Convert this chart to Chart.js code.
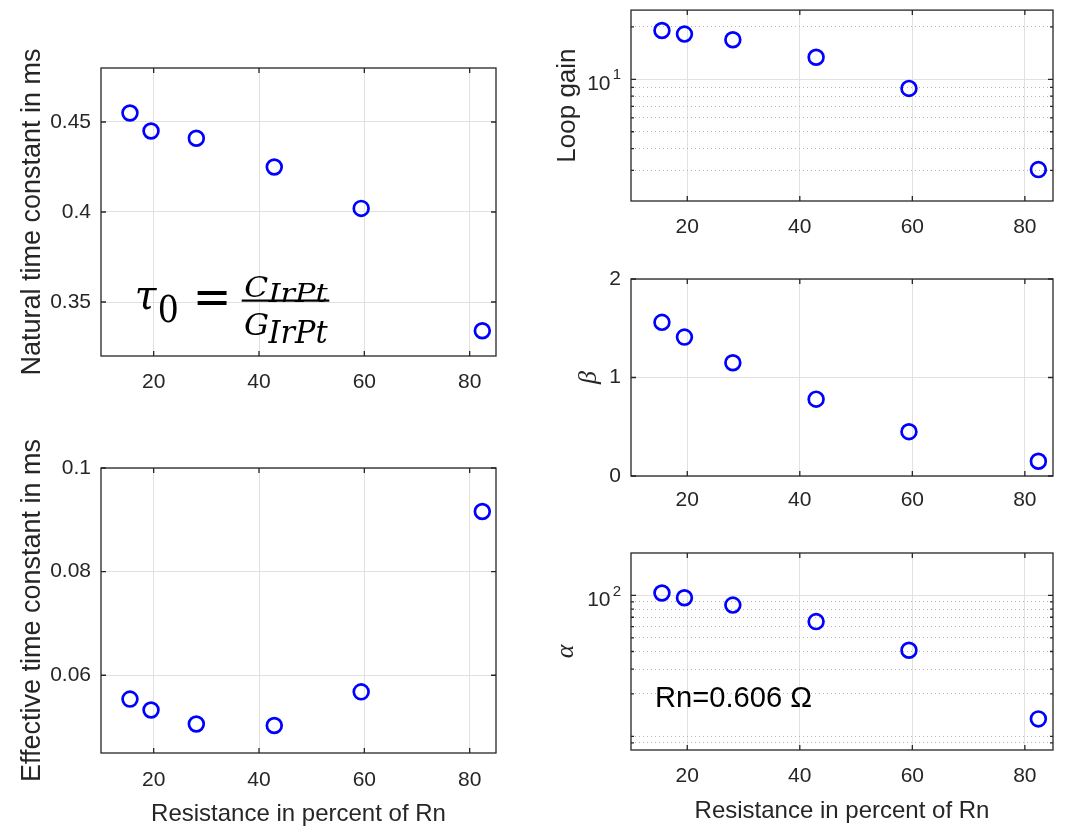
<!DOCTYPE html>
<html>
<head>
<meta charset="utf-8">
<script src="https://cdn.jsdelivr.net/npm/chart.js@4.4.1/dist/chart.umd.min.js"></script>
<style>
  html, body { margin: 0; padding: 0; background: #fff; }
  #page { position: relative; width: 1076px; height: 829px; overflow: hidden; background: #fff; }
  .panel { position: absolute; }
</style>
</head>
<body>
<div id="page">
  <div class="panel" style="left:0px;top:0px;width:520px;height:420px"><canvas id="tauNat"></canvas></div>
  <div class="panel" style="left:0px;top:420px;width:520px;height:409px"><canvas id="tauEff"></canvas></div>
  <div class="panel" style="left:540px;top:0px;width:536px;height:240px"><canvas id="gain"></canvas></div>
  <div class="panel" style="left:540px;top:250px;width:536px;height:260px"><canvas id="beta"></canvas></div>
  <div class="panel" style="left:540px;top:520px;width:536px;height:309px"><canvas id="alpha"></canvas></div>
</div>
<script>
// values
const resistance = [15.5, 19.5, 28.1, 42.9, 59.4, 82.4];
const tauNatural = [0.455, 0.445, 0.441, 0.425, 0.402, 0.334];
const tauEffective = [0.0554, 0.0533, 0.0506, 0.0503, 0.0568, 0.0916];
const loopGain = [19.1, 18.2, 16.9, 13.4, 8.87, 3.03];
const betaValues = [1.56, 1.41, 1.15, 0.78, 0.45, 0.15];
const alphaValues = [104, 96.3, 85.4, 65.2, 40.8, 13.3];

// ticks
const xTicks = [20, 40, 60, 80];
const tauNatTicks = [0.35, 0.4, 0.45];
const tauNatLabels = ["0.35", "0.4", "0.45"];
const tauEffTicks = [0.06, 0.08, 0.1];
const tauEffLabels = ["0.06", "0.08", "0.1"];
const gainTicks = [10];
const gainLabels = ["10"];
const gainExponents = ["1"];
const gainMinor = [3, 4, 5, 6, 7, 8, 9, 20];
const betaTicks = [0, 1, 2];
const betaLabels = ["0", "1", "2"];
const alphaTicks = [100];
const alphaLabels = ["10"];
const alphaExponents = ["2"];
const alphaMinor = [9, 10, 20, 30, 40, 50, 60, 70, 80, 90];

const TXT = "#262626";
const GRID = "#e1e1e1";
const MINOR = "#b5b5b5";
const EXP_GAP = "\u2002"; // room for the exponent right of "10"

function fitBox(ctx, text, font, x0, y0, x1, y1) {
  ctx.font = font;
  const m = ctx.measureText(text);
  const w = m.actualBoundingBoxLeft + m.actualBoundingBoxRight;
  const h = m.actualBoundingBoxAscent + m.actualBoundingBoxDescent;
  const sx = (x1 - x0) / w, sy = (y1 - y0) / h;
  ctx.save();
  ctx.translate(x0 + m.actualBoundingBoxLeft * sx, y0 + m.actualBoundingBoxAscent * sy);
  ctx.scale(sx, sy);
  ctx.textAlign = "left";
  ctx.textBaseline = "alphabetic";
  ctx.fillText(text, 0, 0);
  ctx.restore();
}

// MATLAB style box with inward ticks on all sides, plus exponents on log labels
const boxPlugin = {
  id: "box",
  afterDatasetsDraw(chart) {
    const { ctx, chartArea: a, scales: { x, y } } = chart;
    ctx.save();
    ctx.strokeStyle = TXT;
    ctx.lineWidth = 1.3;
    ctx.beginPath();
    x.ticks.forEach(t => {
      const px = x.getPixelForValue(t.value);
      ctx.moveTo(px, a.bottom); ctx.lineTo(px, a.bottom - 5);
      ctx.moveTo(px, a.top); ctx.lineTo(px, a.top + 5);
    });
    y.ticks.forEach(t => {
      const py = y.getPixelForValue(t.value);
      const len = t.major ? 5 : 3;
      ctx.moveTo(a.left, py); ctx.lineTo(a.left + len, py);
      ctx.moveTo(a.right, py); ctx.lineTo(a.right - len, py);
    });
    ctx.stroke();
    ctx.strokeRect(a.left, a.top, a.right - a.left, a.bottom - a.top);

    const o = chart.config.options.expOpts;
    if (o) {
      ctx.fillStyle = TXT;
      ctx.font = "15px 'Liberation Sans'";
      ctx.textAlign = "right";
      ctx.textBaseline = "middle";
      o.ticks.forEach((v, i) => {
        ctx.fillText(o.exps[i], a.left - 10, y.getPixelForValue(v) - 4);
      });
    }
    ctx.restore();
  }
};

const formulaPlugin = {
  id: "formula",
  afterDraw(chart) {
    const { ctx, chartArea: a } = chart;
    const L = a.left, T = a.top;
    const it = "italic 40px 'DejaVu Serif'";
    ctx.save();
    ctx.fillStyle = "#000";
    fitBox(ctx, "\u03c4", it, L + 35.7, T + 220.3, L + 56.3, T + 242.7);
    fitBox(ctx, "0", "40px 'DejaVu Serif'", L + 58.3, T + 225.3, L + 75.7, T + 254.7);
    fitBox(ctx, "=", "40px 'DejaVu Serif'", L + 96.3, T + 223, L + 126.3, T + 237);
    fitBox(ctx, "C", it, L + 144, T + 207, L + 166.7, T + 229.3);
    fitBox(ctx, "IrPt", it, L + 166.7, T + 214.7, L + 227.3, T + 234.7);
    ctx.fillRect(L + 140.7, T + 231.5, 87.6, 2.2);
    fitBox(ctx, "G", it, L + 143, T + 245.3, L + 167.3, T + 268);
    fitBox(ctx, "IrPt", it, L + 166.7, T + 252.7, L + 227.3, T + 276);
    ctx.restore();
  }
};

const rnPlugin = {
  id: "rn",
  afterDraw(chart) {
    const { ctx, chartArea: a } = chart;
    ctx.save();
    ctx.fillStyle = "#000";
    fitBox(ctx, "Rn=0.606 \u03a9", "28px 'Liberation Sans'", a.left + 26, a.top + 134, a.left + 180, a.top + 154);
    ctx.restore();
  }
};

function makeChart(id, values, o) {
  const yScale = {
    type: o.log ? "logarithmic" : "linear",
    min: o.min,
    max: o.max,
    afterBuildTicks: (s) => {
      const t = o.ticks.map(v => ({ value: v, major: true }))
        .concat((o.minor || []).map(v => ({ value: v, major: false })));
      t.sort((p, q) => p.value - q.value);
      s.ticks = t;
    },
    afterFit: (s) => {
      s.width = o.yWidth;
      s.paddingTop = 0; s.paddingBottom = 0;
    },
    ticks: {
      autoSkip: false,
      padding: 10,
      labelOffset: o.exps ? 5 : 0,
      color: TXT,
      font: { family: "'Liberation Sans'", size: 21 },
      callback: (v) => {
        const i = o.ticks.indexOf(v);
        if (i < 0) return "";
        return o.exps ? o.labels[i] + EXP_GAP : o.labels[i];
      }
    },
    grid: {
      drawTicks: false,
      lineWidth: 1,
      color: (c) => (c.tick && !c.tick.major ? MINOR : GRID)
    },
    border: {
      display: false,
      dash: (c) => (c.tick && !c.tick.major ? [1, 3] : [])
    },
    title: {
      display: true,
      text: o.yTitle,
      color: TXT,
      padding: { top: o.yTitlePad, bottom: 0 },
      font: o.yTitleFont
    }
  };
  const xScale = {
    type: "linear",
    min: 10,
    max: 85,
    afterBuildTicks: (s) => { s.ticks = xTicks.map(v => ({ value: v })); },
    afterFit: (s) => {
      s.height = o.xHeight;
      s.paddingLeft = 0; s.paddingRight = 0;
    },
    ticks: {
      autoSkip: false,
      maxRotation: 0,
      padding: o.xTickPad,
      color: TXT,
      font: { family: "'Liberation Sans'", size: 21 },
      callback: (v) => String(v)
    },
    grid: { drawTicks: false, color: GRID, lineWidth: 1 },
    border: { display: false },
    title: {
      display: !!o.xTitle,
      text: o.xTitle || "",
      color: TXT,
      padding: { top: 0, bottom: o.xTitlePad || 0 },
      font: { family: "'Liberation Sans'", size: 24 }
    }
  };
  return new Chart(document.getElementById(id), {
    type: "scatter",
    data: {
      datasets: [{
        data: resistance.map((r, i) => ({ x: r, y: values[i] })),
        showLine: false,
        pointStyle: "circle",
        pointRadius: 7.4,
        pointHoverRadius: 7.4,
        pointBorderWidth: 2.7,
        pointBorderColor: "#0000ff",
        pointBackgroundColor: "rgba(0,0,0,0)",
        clip: false
      }]
    },
    options: {
      responsive: true,
      maintainAspectRatio: false,
      animation: false,
      events: [],
      expOpts: o.exps ? { ticks: o.ticks, exps: o.exps } : null,
      layout: { padding: o.pad },
      plugins: { legend: { display: false }, tooltip: { enabled: false } },
      scales: { x: xScale, y: yScale }
    },
    plugins: [boxPlugin].concat(o.extra || [])
  });
}

const sans27 = { family: "'Liberation Sans'", size: 27 };
const sans26 = { family: "'Liberation Sans'", size: 26 };
const serif26 = { family: "'Liberation Serif'", size: 26, style: "italic" };

makeChart("tauNat", tauNatural, {
  min: 0.32, max: 0.48, ticks: tauNatTicks, labels: tauNatLabels,
  yTitle: "Natural time constant in ms", yTitleFont: sans27, yTitlePad: 16,
  yWidth: 101, xHeight: 40, xTickPad: 14,
  pad: { left: 0, top: 68, right: 24, bottom: 24 },
  extra: [formulaPlugin]
});

makeChart("tauEff", tauEffective, {
  min: 0.045, max: 0.1, ticks: tauEffTicks, labels: tauEffLabels,
  yTitle: "Effective time constant in ms", yTitleFont: sans27, yTitlePad: 16,
  yWidth: 101, xHeight: 76, xTickPad: 15,
  xTitle: "Resistance in percent of Rn", xTitlePad: 0,
  pad: { left: 0, top: 48, right: 24, bottom: 0 }
});

makeChart("gain", loopGain, {
  log: true, min: 2, max: 25, ticks: gainTicks, labels: gainLabels, exps: gainExponents, minor: gainMinor,
  yTitle: "Loop gain", yTitleFont: sans26, yTitlePad: 12,
  yWidth: 91, xHeight: 39, xTickPad: 14,
  pad: { left: 0, top: 4, right: 23, bottom: 0 }
});

makeChart("beta", betaValues, {
  min: 0, max: 2, ticks: betaTicks, labels: betaLabels,
  yTitle: "\u03b2", yTitleFont: serif26, yTitlePad: 34,
  yWidth: 91, xHeight: 34, xTickPad: 12,
  pad: { left: 0, top: 29, right: 23, bottom: 0 }
});

makeChart("alpha", alphaValues, {
  log: true, min: 8, max: 200, ticks: alphaTicks, labels: alphaLabels, exps: alphaExponents, minor: alphaMinor,
  yTitle: "\u03b1", yTitleFont: serif26, yTitlePad: 11,
  yWidth: 91, xHeight: 79, xTickPad: 14,
  xTitle: "Resistance in percent of Rn", xTitlePad: 3,
  pad: { left: 0, top: 33, right: 23, bottom: 0 },
  extra: [rnPlugin]
});
</script>
</body>
</html>
